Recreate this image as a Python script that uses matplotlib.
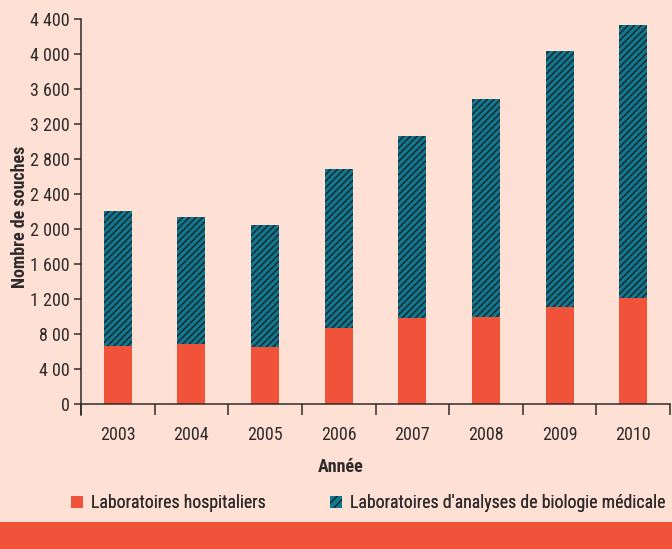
import matplotlib.pyplot as plt
from matplotlib.patches import Rectangle, Patch

plt.rcParams['font.family'] = ['Roboto Condensed', 'DejaVu Sans']
plt.rcParams['hatch.linewidth'] = 1.2

years = ['2003', '2004', '2005', '2006', '2007', '2008', '2009', '2010']
hospital = [660, 680, 650, 865, 980, 990, 1105, 1210]
lbm = [1550, 1460, 1390, 1825, 2085, 2500, 2930, 3125]
ytick_vals = [0, 400, 800, 1200, 1600, 2000, 2400, 2800, 3200, 3600, 4000, 4400]
ytick_labels = ['0', '4 00', '8 00', '1 200', '1 600', '2 000', '2 400', '2 800',
                '3 200', '3 600', '4 000', '4 400']

bg = '#FEE1D4'
red = '#F0523A'
teal = '#0F7B90'
hatch_col = '#1E2B36'
dark = '#2E2A2B'

fig = plt.figure(figsize=(6.72, 5.49), dpi=100, facecolor=bg)
ax = fig.add_axes([81 / 672, 1 - 415 / 549, 589 / 672, 396 / 549])
ax.set_facecolor(bg)

x = list(range(len(years)))
ax.bar(x, hospital, width=0.38, color=red, linewidth=0, label='Laboratoires hospitaliers')
ax.bar(x, lbm, width=0.38, bottom=hospital, color=teal, edgecolor=hatch_col,
       linewidth=0, hatch='/////', label="Laboratoires d'analyses de biologie médicale")

ax.set_xlim(-0.5, 7.5)
ax.set_ylim(-126, 4400)

for s in ['top', 'right']:
    ax.spines[s].set_visible(False)
ax.spines['bottom'].set_position(('data', 0))
ax.spines['left'].set_color(dark)
ax.spines['bottom'].set_color(dark)
ax.spines['left'].set_linewidth(1.1)
ax.spines['bottom'].set_linewidth(1.1)

ax.set_yticks(ytick_vals)
ax.set_yticklabels(ytick_labels)
ax.tick_params(axis='y', direction='out', length=5, width=1.1, color=dark,
               labelsize=13, labelcolor=dark, pad=3)

ax.set_xticks(x)
ax.set_xticklabels(years)
ax.set_xticks([i - 0.5 for i in range(len(years) + 1)], minor=True)
ax.tick_params(axis='x', which='major', length=0, labelsize=13, labelcolor=dark, pad=16)
ax.tick_params(axis='x', which='minor', direction='out', length=8, width=1.1, color=dark)

ax.set_ylabel('Nombre de souches', fontsize=13, fontweight='bold', color=dark, labelpad=1)
fig.text(341 / 672, 1 - 467 / 549, 'Année', fontsize=13, fontweight='bold', color=dark,
         ha='center', va='center')

labels = ['Laboratoires hospitaliers', "Laboratoires d'analyses de biologie médicale"]
handles = [Patch(facecolor=red, linewidth=0),
           Patch(facecolor=teal, edgecolor=hatch_col, linewidth=0, hatch='////')]
for h, lab, x0 in zip(handles, labels, [71, 330]):
    fig.add_artist(fig.legend([h], [lab], loc='center left',
                              bbox_to_anchor=(x0 / 672, 1 - 503 / 549),
                              frameon=False, fontsize=12.8, handlelength=0.7, handleheight=0.7,
                              handletextpad=0.45, borderpad=0, borderaxespad=0,
                              labelcolor=dark))

fig.patches.append(Rectangle((0, 0), 1, 27 / 549, transform=fig.transFigure,
                             facecolor=red, edgecolor='none'))

fig.savefig('out.png', dpi=100, facecolor=bg)
